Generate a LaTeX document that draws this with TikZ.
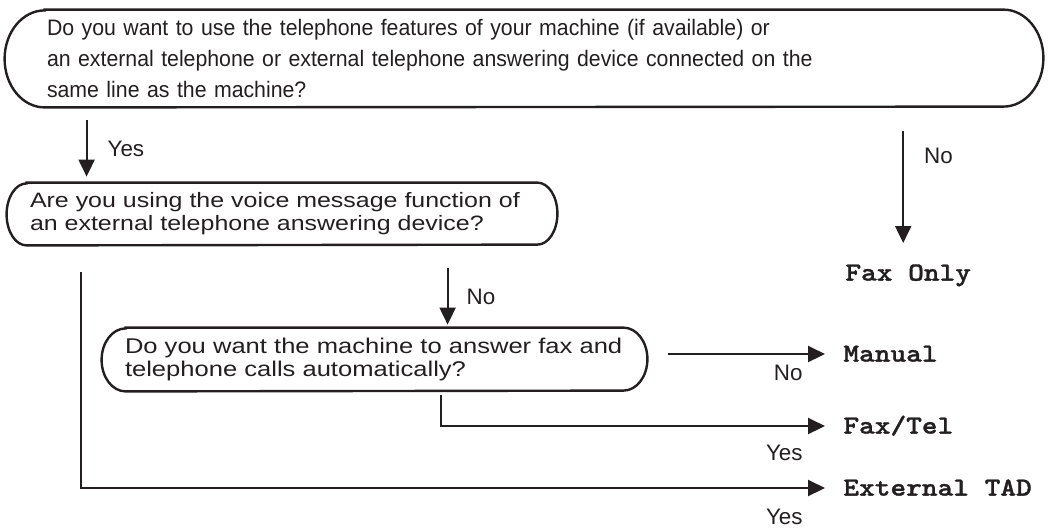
\documentclass[tikz,border=0pt]{standalone}
\usepackage{fontspec}
\setmainfont{Liberation Sans}
\newfontfamily\qfont[FakeStretch=1.2]{Liberation Sans}
\newfontfamily\topqfont[FakeStretch=0.95]{Liberation Sans}
\newfontfamily\resfont[FakeStretch=1.15,FakeBold=1.2]{lmmonolt10-bold.otf}
\usepackage{tikz}
\usetikzlibrary{arrows.meta}
\definecolor{ink}{HTML}{231F20}
\tikzset{
qline/.style={draw=ink, line width=1.2pt},
arr/.style={draw=ink, line width=1pt, -{Triangle[length=8.5pt,width=8pt]}},
q/.style={inner ysep=0pt, inner xsep=11.5pt, align=left, text=ink, font={\qfont\fontsize{10.5}{11.5}\selectfont}},
lbl/.style={inner sep=0pt, text=ink, font=\fontsize{11.2}{13}\selectfont},
res/.style={inner sep=0pt, anchor=west, text=ink, text height=7.6pt, text depth=0pt, font=\resfont\fontsize{13}{15}\selectfont},
}
\newcommand{\qframe}[3]{%
\draw[qline] ([xshift=#2]#1.north west) -- ([xshift=-#2]#1.north east)
  arc[start angle=90,end angle=-90,x radius=#2,y radius=#3]
  -- ([xshift=#2]#1.south west)
  arc[start angle=270,end angle=90,x radius=#2,y radius=#3] -- cycle;}

\begin{document}
\begin{tikzpicture}[x=0.5pt,y=-0.5pt]
\useasboundingbox (0,0) rectangle (1048,527);

\node[q, inner xsep=21pt, text width=477pt, minimum height=48.5pt, font={\topqfont\fontsize{11.2}{15.7}\selectfont}] (q1) at (524,58.5)
{Do you want to use the telephone features of your machine (if available) or\\
an external telephone or external telephone answering device connected on the\\
same line as the machine?};
\qframe{q1}{20pt}{24.25pt}

\node[q, text width=252pt, minimum height=31pt, font={\qfont\fontsize{10.4}{11.5}\selectfont}] (q2) at (282,214)
{Are you using the voice message function of\\
an external telephone answering device?};
\qframe{q2}{10pt}{15.5pt}

\node[q, text width=249.5pt, minimum height=31.5pt, font={\qfont\fontsize{10.65}{11.5}\selectfont}] (q3) at (374.5,359.5)
{Do you want the machine to answer fax and\\
telephone calls automatically?};
\qframe{q3}{12pt}{15.75pt}

\node[res] (faxonly) at (845,273) {Fax Only};
\node[res] (manual) at (843,354) {Manual};
\node[res] (faxtel) at (843,426) {Fax/Tel};
\node[res] (exttad) at (843,488) {External TAD};

\draw[arr] ([xshift=41pt,yshift=-6.5pt]q1.south west) -- ([xshift=40pt,yshift=3pt]q2.north west)
  node[lbl, midway, right=10pt] {Yes};
\draw[arr] ([xshift=-2.5pt,yshift=-12pt]q1.south -| faxonly.north) -- ([xshift=-2.5pt,yshift=11pt]faxonly.north)
  node[lbl, pos=0.22, right=10pt] {No};
\draw[arr] ([xshift=220.5pt,yshift=-11.5pt]q2.south west) -- ([xshift=173pt,yshift=1.5pt]q3.north west)
  node[lbl, midway, right=9pt] {No};
\draw[arr, shorten <=10.5pt] (manual.west -| q3.east) -- ([xshift=-9pt]manual.west);
\draw[arr] ([xshift=169.5pt,yshift=-2pt]q3.south west) |- ([xshift=-9pt]faxtel.west);
\draw[arr] ([xshift=37pt,yshift=-13.5pt]q2.south west) |- ([xshift=-9pt]exttad.west);

\node[lbl, anchor=east] (nomanual) at ([xshift=-20pt,yshift=-9.5pt]manual.west) {No};
\node[lbl, anchor=east] (yesfaxtel) at ([xshift=-20pt,yshift=-13.5pt]faxtel.west) {Yes};
\node[lbl, anchor=east] (yesexttad) at ([xshift=-20pt,yshift=-14.5pt]exttad.west) {Yes};
\end{tikzpicture}
\end{document}
